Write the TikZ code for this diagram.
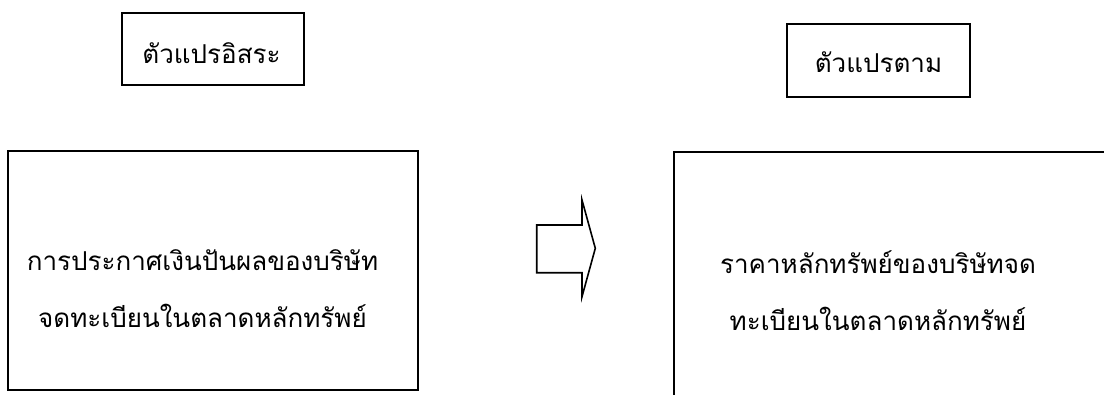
\documentclass[tikz,border=0pt]{standalone}
\usepackage{fontspec}
\newfontfamily\thaifont[Script=Thai]{Loma}
\begin{document}
\begin{tikzpicture}[x=1pt,y=-1pt,
  box/.style={draw=black,line width=1.6pt,inner sep=0pt},
  lbl/.style={font=\thaifont\fontsize{26}{57}\selectfont,align=center,inner sep=0pt},
  blockarrow/.style={draw=black,line width=1.6pt,line join=miter}]
\useasboundingbox (0,0) rectangle (1104,394);
\clip (0,0) rectangle (1104,394);
% header boxes
\node[box,minimum width=182pt,minimum height=72pt] (indep) at (213,49) {};
\node[lbl] (indeptxt) at (211.5,53) {ตัวแปรอิสระ};
\node[box,minimum width=183pt,minimum height=73pt] (dep) at (878.5,60.5) {};
\node[lbl] (deptxt) at (878.5,62) {ตัวแปรตาม};
% main boxes
\node[box,minimum width=410pt,minimum height=239pt] (cause) at (213,270.5) {};
\node[lbl] (causetxt) at (202.5,289) {การประกาศเงินปันผลของบริษัท\\จดทะเบียนในตลาดหลักทรัพย์};
\node[box,minimum width=460pt,minimum height=280pt] (effect) at (904,292) {};
\node[lbl] (effecttxt) at (878,291) {ราคาหลักทรัพย์ของบริษัทจด\\ทะเบียนในตลาดหลักทรัพย์};
% block arrow
\draw[blockarrow] (536.7,225) -- (582,225) -- (582,200) -- (595.3,248.3) -- (582,296.7) -- (582,272.7) -- (536.7,272.7) -- cycle;
\end{tikzpicture}
\end{document}
